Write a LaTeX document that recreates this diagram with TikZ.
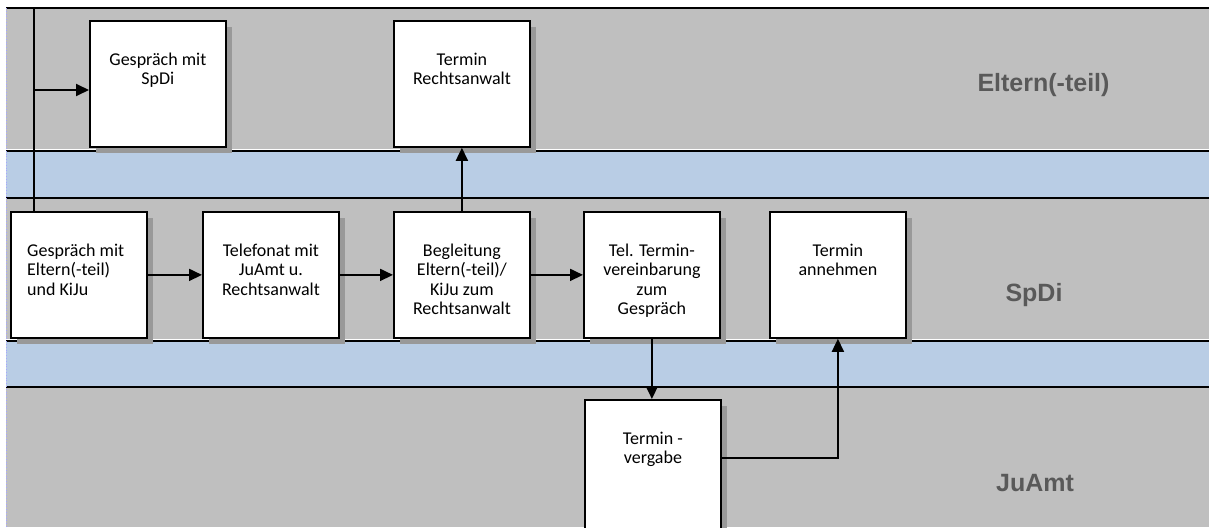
\documentclass[tikz,border=0pt]{standalone}
\usepackage{fontspec}
\setmainfont{Carlito}
\newfontfamily\lanefont{Liberation Sans}
\usetikzlibrary{arrows.meta,calc}
\definecolor{lanegray}{HTML}{BFBFBF}
\definecolor{laneblue}{HTML}{B9CDE5}
\definecolor{shadowgray}{HTML}{999999}
\definecolor{labelgray}{HTML}{595959}
\newcommand\boxlines[1]{\parbox[t]{132pt}{\centering\fontsize{18pt}{19.5pt}\selectfont #1}}
\begin{document}
\begin{tikzpicture}[x=1pt,y=-1pt,
  stepbox/.style={draw=black, line width=1.8pt, fill=white, inner sep=0pt,
    minimum width=136pt, minimum height=126pt, anchor=north west,
    preaction={fill=shadowgray, transform canvas={shift={(6pt,-6pt)}}}},
  boxtext/.style={anchor=base, inner sep=0pt},
  conn/.style={line width=1.8pt, -{Triangle[length=13pt,width=12pt]}},
  plainconn/.style={line width=1.8pt},
  laneline/.style={line width=1.8pt, black},
  laneedge/.style={line width=1pt, white},
  lanelabel/.style={anchor=base, inner sep=0pt, text=labelgray,
    font=\lanefont\bfseries\fontsize{25pt}{25pt}\selectfont}]
\useasboundingbox (0,0) rectangle (1209,527);
\clip (0,0) rectangle (1209,527);
\fill[white] (0,0) rectangle (1209,527);
% lanes
\fill[lanegray] (6,8) rectangle (1209,151);
\fill[laneblue] (6,151) rectangle (1209,198);
\fill[lanegray] (6,198) rectangle (1209,341);
\fill[laneblue] (6,341) rectangle (1209,387);
\fill[lanegray] (6,387) rectangle (1209,527);
\foreach \yy in {151,341} {\draw[laneedge] (6,\yy-2) -- (1209,\yy-2);}
\foreach \yy in {8,151,198,341,387} {\draw[laneline] (6,\yy) -- (1209,\yy);}
\draw[blue!35, dotted, line width=0.8pt] (6,8) -- (6,527);
% lane labels
\node[lanelabel] (lel) at (1043.5,92) {Eltern(-teil)};
\node[lanelabel] (lsp) at (1034,301) {SpDi};
\node[lanelabel] (lju) at (1035,491) {JuAmt};
% boxes
\node[stepbox] (sp) at (89,20) {};
\node[stepbox] (ra) at (393,20) {};
\node[stepbox] (b1) at (10,211) {};
\node[stepbox] (b2) at (202,211) {};
\node[stepbox] (b3) at (393,211) {};
\node[stepbox] (b4) at (583,211) {};
\node[stepbox] (b5) at (769,211) {};
\node[stepbox, minimum height=150pt] (tv) at (584,399) {};
% texts
\node[boxtext] (spt) at ($(sp.north)+(0,45)$) {\boxlines{Gespräch mit\\SpDi}};
\node[boxtext] (rat) at ($(ra.north)+(0,45)$) {\boxlines{Termin\\Rechtsanwalt}};
\node[anchor=base west, inner sep=0pt] (b1t) at ($(b1.north west)+(17,45)$)
  {\parbox[t]{118pt}{\raggedright\fontsize{18pt}{19.5pt}\selectfont Gespräch mit\\Eltern(-teil)\\und KiJu}};
\node[boxtext] (b2t) at ($(b2.north)+(0,45)$) {\boxlines{Telefonat mit\\JuAmt u.\\Rechtsanwalt}};
\node[boxtext] (b3t) at ($(b3.north)+(0,45)$) {\boxlines{Begleitung\\Eltern(-teil)/\\KiJu zum\\Rechtsanwalt}};
\node[boxtext] (b4t) at ($(b4.north)+(0,45)$) {\boxlines{Tel. Termin-\\vereinbarung\\zum\\Gespräch}};
\node[boxtext] (b5t) at ($(b5.north)+(0,45)$) {\boxlines{Termin\\annehmen}};
\node[boxtext] (tvt) at ($(tv.north)+(0,45)$) {\boxlines{Termin -\\vergabe}};
% connectors
\coordinate (topend) at (34,8);
\coordinate (branch) at (34,90);
\draw[plainconn] (topend) -- (topend |- b1.north);
\draw[conn] (branch) -- (branch -| sp.west);
\draw[conn] (b1.east) -- (b2.west);
\draw[conn] (b2.east) -- (b3.west);
\draw[conn] (b3.east) -- (b4.west);
\draw[conn] (b3.north) -- (ra.south);
\draw[conn] (b4.south) -- (b4.south |- tv.north);
\coordinate (tvout) at ($(tv.north east)+(0,59)$);
\draw[conn] (tvout) -| (b5.south);
\end{tikzpicture}
\end{document}
